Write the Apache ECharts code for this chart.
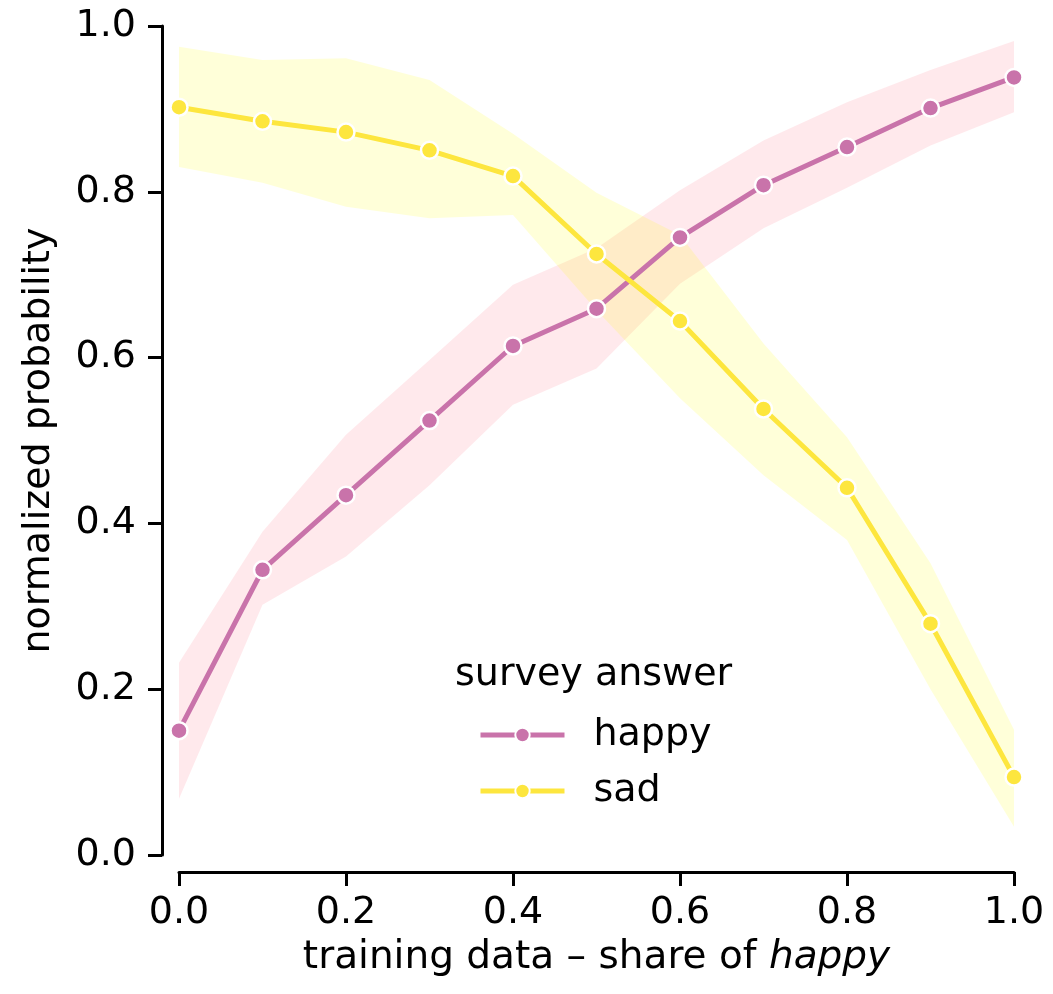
<!DOCTYPE html>
<html>
<head>
<meta charset="utf-8">
<script src="https://cdn.jsdelivr.net/npm/echarts@6/dist/echarts.min.js"></script>
<style>
html,body{margin:0;padding:0;background:#fff;}
#chart{width:1053px;height:994px;}
</style>
</head>
<body>
<div id="chart"></div>
<script>
// ---- data ----
const shareHappy = [0.0, 0.1, 0.2, 0.3, 0.4, 0.5, 0.6, 0.7, 0.8, 0.9, 1.0];
const happyMean  = [0.150, 0.344, 0.434, 0.524, 0.614, 0.659, 0.745, 0.808, 0.854, 0.901, 0.938];
const happyLow   = [0.068, 0.302, 0.360, 0.446, 0.543, 0.587, 0.689, 0.756, 0.805, 0.856, 0.896];
const happyHigh  = [0.232, 0.390, 0.507, 0.597, 0.688, 0.732, 0.802, 0.862, 0.908, 0.947, 0.982];
const sadMean    = [0.902, 0.885, 0.872, 0.850, 0.819, 0.725, 0.644, 0.538, 0.443, 0.279, 0.094];
const sadLow     = [0.830, 0.811, 0.782, 0.768, 0.772, 0.657, 0.551, 0.458, 0.380, 0.200, 0.034];
const sadHigh    = [0.975, 0.959, 0.961, 0.935, 0.870, 0.799, 0.748, 0.617, 0.504, 0.352, 0.151];
const seriesNames = ['happy', 'sad'];
const legendTitle = 'survey answer';
const xLabelPlain = 'training data \u2013 share of ';
const xLabelItalic = 'happy';
const yLabel = 'normalized probability';

// ---- styles ----
const FONT = 'DejaVu Sans';
const FS = 38;
const cHappy = '#c973aa';
const cSad = '#fde63e';
const bandHappy = 'rgba(255,182,193,0.3)';
const bandSad = 'rgba(255,255,0,0.15)';

const pairs = (ys) => shareHappy.map((x, i) => [x, ys[i]]);
// rows: [x, low, high]
const bandRows = (lo, hi) => shareHappy.map((x, i) => [x, lo[i], hi[i]]);

function bandSeries(id, lo, hi, color, z) {
  const rows = bandRows(lo, hi);
  return {
    type: 'custom', name: id, data: rows, silent: true, z: z,
    encode: { x: 0, y: [1, 2] },
    renderItem: function (params, api) {
      if (params.dataIndex !== 0) return null;
      const upper = rows.map(r => api.coord([r[0], r[2]]));
      const lower = rows.map(r => api.coord([r[0], r[1]])).reverse();
      return {
        type: 'polygon',
        shape: { points: upper.concat(lower) },
        style: { fill: color, stroke: null }
      };
    }
  };
}

function meanSeries(name, ys, color, z) {
  return {
    type: 'line', name: name, data: pairs(ys),
    symbol: 'circle', symbolSize: 17,
    itemStyle: { color: color, borderColor: '#ffffff', borderWidth: 2.5 },
    lineStyle: { color: color, width: 5 },
    z: z
  };
}

const chart = echarts.init(document.getElementById('chart'), null, { renderer: 'canvas' });
chart.setOption({
  animation: false,
  backgroundColor: '#ffffff',
  textStyle: { fontFamily: FONT },
  grid: { left: 179, right: 39, top: 26, bottom: 139, containLabel: false },
  xAxis: {
    type: 'value', min: 0, max: 1, interval: 0.2, offset: 17,
    axisLine: { show: true, onZero: false, lineStyle: { color: '#000', width: 3 } },
    axisTick: { show: true, length: 14, lineStyle: { color: '#000', width: 3 } },
    axisLabel: { color: '#000', fontSize: FS, fontFamily: FONT, margin: 22,
      formatter: (v) => v.toFixed(1) },
    splitLine: { show: false },
    name: '{p|' + xLabelPlain + '}{i|' + xLabelItalic + '}',
    nameLocation: 'middle', nameGap: 66,
    nameTextStyle: {
      rich: {
        p: { fontSize: 39, fontFamily: FONT, color: '#000' },
        i: { fontSize: 39, fontFamily: FONT, fontStyle: 'italic', color: '#000' }
      }
    }
  },
  yAxis: {
    type: 'value', min: 0, max: 1, interval: 0.2, offset: 17,
    axisLine: { show: true, onZero: false, lineStyle: { color: '#000', width: 3 } },
    axisTick: { show: true, length: 14, lineStyle: { color: '#000', width: 3 } },
    axisLabel: { color: '#000', fontSize: FS, fontFamily: FONT, margin: 26,
      formatter: (v) => v.toFixed(1) },
    splitLine: { show: false },
    name: yLabel, nameLocation: 'middle', nameGap: 104, nameRotate: 90,
    nameTextStyle: { color: '#000', fontSize: FS, fontFamily: FONT }
  },
  legend: {
    data: seriesNames,
    orient: 'vertical',
    left: 473, top: 711,
    itemWidth: 84, itemHeight: 18, itemGap: 18,
    lineStyle: { width: 5 },
    textStyle: { fontSize: FS, fontFamily: FONT, color: '#000', padding: [0, 0, 0, 24] }
  },
  graphic: [{
    type: 'text', left: 455, top: 656, z: 100,
    style: { text: legendTitle, font: FS + 'px "' + FONT + '"', fill: '#000' }
  }],
  series: [
    bandSeries('hb', happyLow, happyHigh, bandHappy, 1),
    bandSeries('sb', sadLow, sadHigh, bandSad, 2),
    meanSeries(seriesNames[0], happyMean, cHappy, 3),
    meanSeries(seriesNames[1], sadMean, cSad, 4)
  ]
});
</script>
</body>
</html>
